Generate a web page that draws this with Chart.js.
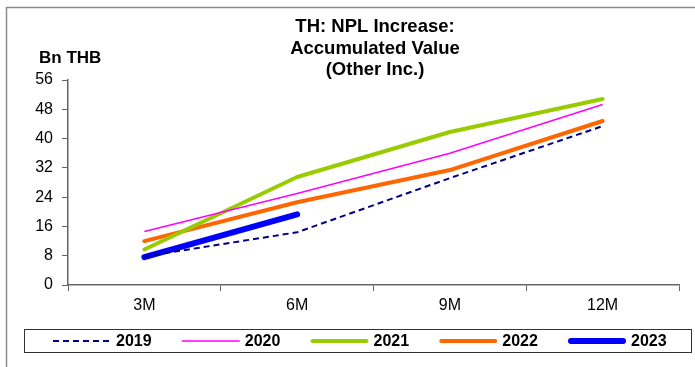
<!DOCTYPE html>
<html>
<head>
<meta charset="utf-8">
<script src="https://cdn.jsdelivr.net/npm/chart.js@4/dist/chart.umd.min.js"></script>
<style>
html,body{margin:0;padding:0;background:#fff;}
canvas{display:block;}
</style>
</head>
<body>
<canvas id="c" width="695" height="367"></canvas>
<script>
// ---- data ----
const categories = ["3M", "6M", "9M", "12M"];
const y2019 = [7.8, 14.4, 29.2, 43.4];
const y2020 = [14.6, 25.0, 36.0, 49.3];
const y2021 = [9.7, 29.5, 41.8, 50.8];
const y2022 = [12.0, 22.6, 31.4, 44.8];
const y2023 = [7.6, 19.3, null, null];
const yTicks = [0, 8, 16, 24, 32, 40, 48, 56];
const titleLines = ["TH: NPL Increase:", "Accumulated Value", "(Other Inc.)"];
const unitLabel = "Bn THB";

const FONT = "'Liberation Sans', Arial, sans-serif";

const extras = {
  id: 'extras',
  beforeDraw(chart) {
    const ctx = chart.ctx;
    ctx.save();
    ctx.fillStyle = '#fff';
    ctx.fillRect(0, 0, chart.width, chart.height);
    // outer frame
    ctx.strokeStyle = '#8a8a8a';
    ctx.lineWidth = 1.5;
    ctx.beginPath();
    ctx.moveTo(6.5, chart.height);
    ctx.lineTo(6.5, 7.5);
    ctx.lineTo(chart.width, 7.5);
    ctx.stroke();
    ctx.restore();
  },
  afterDraw(chart) {
    const ctx = chart.ctx;
    ctx.save();
    // title
    ctx.fillStyle = '#000';
    ctx.font = "bold 18.5px " + FONT;
    ctx.textAlign = 'center';
    ctx.textBaseline = 'middle';
    titleLines.forEach((t, i) => ctx.fillText(t, 375, 27 + i * 21.5));
    // unit label
    ctx.font = "bold 17px " + FONT;
    ctx.textAlign = 'left';
    ctx.fillText(unitLabel, 39, 58);
    // legend box
    ctx.strokeStyle = '#333';
    ctx.lineWidth = 1;
    ctx.strokeRect(24.5, 329.5, 667, 23);
    const ly = 341;
    chart.data.datasets.forEach((ds, i) => {
      const x0 = 53 + i * 128.75;
      ctx.save();
      ctx.strokeStyle = ds.borderColor;
      ctx.lineWidth = ds.borderWidth;
      ctx.lineCap = ds.borderCapStyle || 'butt';
      ctx.setLineDash(ds.borderDash || []);
      ctx.beginPath();
      const inset = (ds.borderCapStyle === 'round') ? ds.borderWidth / 2 : 0;
      ctx.moveTo(x0 + inset, ly);
      ctx.lineTo(x0 + 58 - inset, ly);
      ctx.stroke();
      ctx.restore();
      ctx.fillStyle = '#000';
      ctx.font = "bold 16px " + FONT;
      ctx.textAlign = 'left';
      ctx.textBaseline = 'middle';
      ctx.fillText(ds.label, x0 + 63, ly + 1);
    });
    ctx.restore();
  }
};

new Chart(document.getElementById('c'), {
  type: 'line',
  data: {
    labels: categories,
    datasets: [
      { label: '2019', data: y2019, borderColor: '#000080', borderWidth: 2, borderDash: [6, 4], pointRadius: 0, borderCapStyle: 'butt' },
      { label: '2020', data: y2020, borderColor: '#ff00ff', borderWidth: 1.5, pointRadius: 0 },
      { label: '2021', data: y2021, borderColor: '#99cc00', borderWidth: 4, pointRadius: 0, borderCapStyle: 'round', borderJoinStyle: 'round' },
      { label: '2022', data: y2022, borderColor: '#ff6600', borderWidth: 4, pointRadius: 0, borderCapStyle: 'round', borderJoinStyle: 'round' },
      { label: '2023', data: y2023, borderColor: '#0000ff', borderWidth: 6, pointRadius: 0, borderCapStyle: 'round', borderJoinStyle: 'round' }
    ]
  },
  options: {
    responsive: false,
    animation: false,
    devicePixelRatio: 1,
    layout: { padding: { top: 80, right: 16, bottom: 0, left: 0 } },
    plugins: { legend: { display: false }, title: { display: false }, tooltip: { enabled: false } },
    scales: {
      x: {
        offset: true,
        grid: { offset: true, drawOnChartArea: false, tickLength: 6, color: '#666', tickColor: '#666' },
        border: { color: '#666', width: 1.5 },
        ticks: { color: '#000', font: { family: FONT, size: 16 }, padding: 5, maxRotation: 0 },
        afterFit(s) { s.height = 82; }
      },
      y: {
        min: 0, max: 56,
        afterBuildTicks(s) { s.ticks = yTicks.map(v => ({ value: v })); },
        grid: { drawOnChartArea: false, tickLength: 6, color: '#666', tickColor: '#666' },
        border: { color: '#666', width: 1.5 },
        ticks: { color: '#000', font: { family: FONT, size: 16 }, padding: 9 },
        afterFit(s) { s.width = 68; }
      }
    }
  },
  plugins: [extras]
});
</script>
</body>
</html>
